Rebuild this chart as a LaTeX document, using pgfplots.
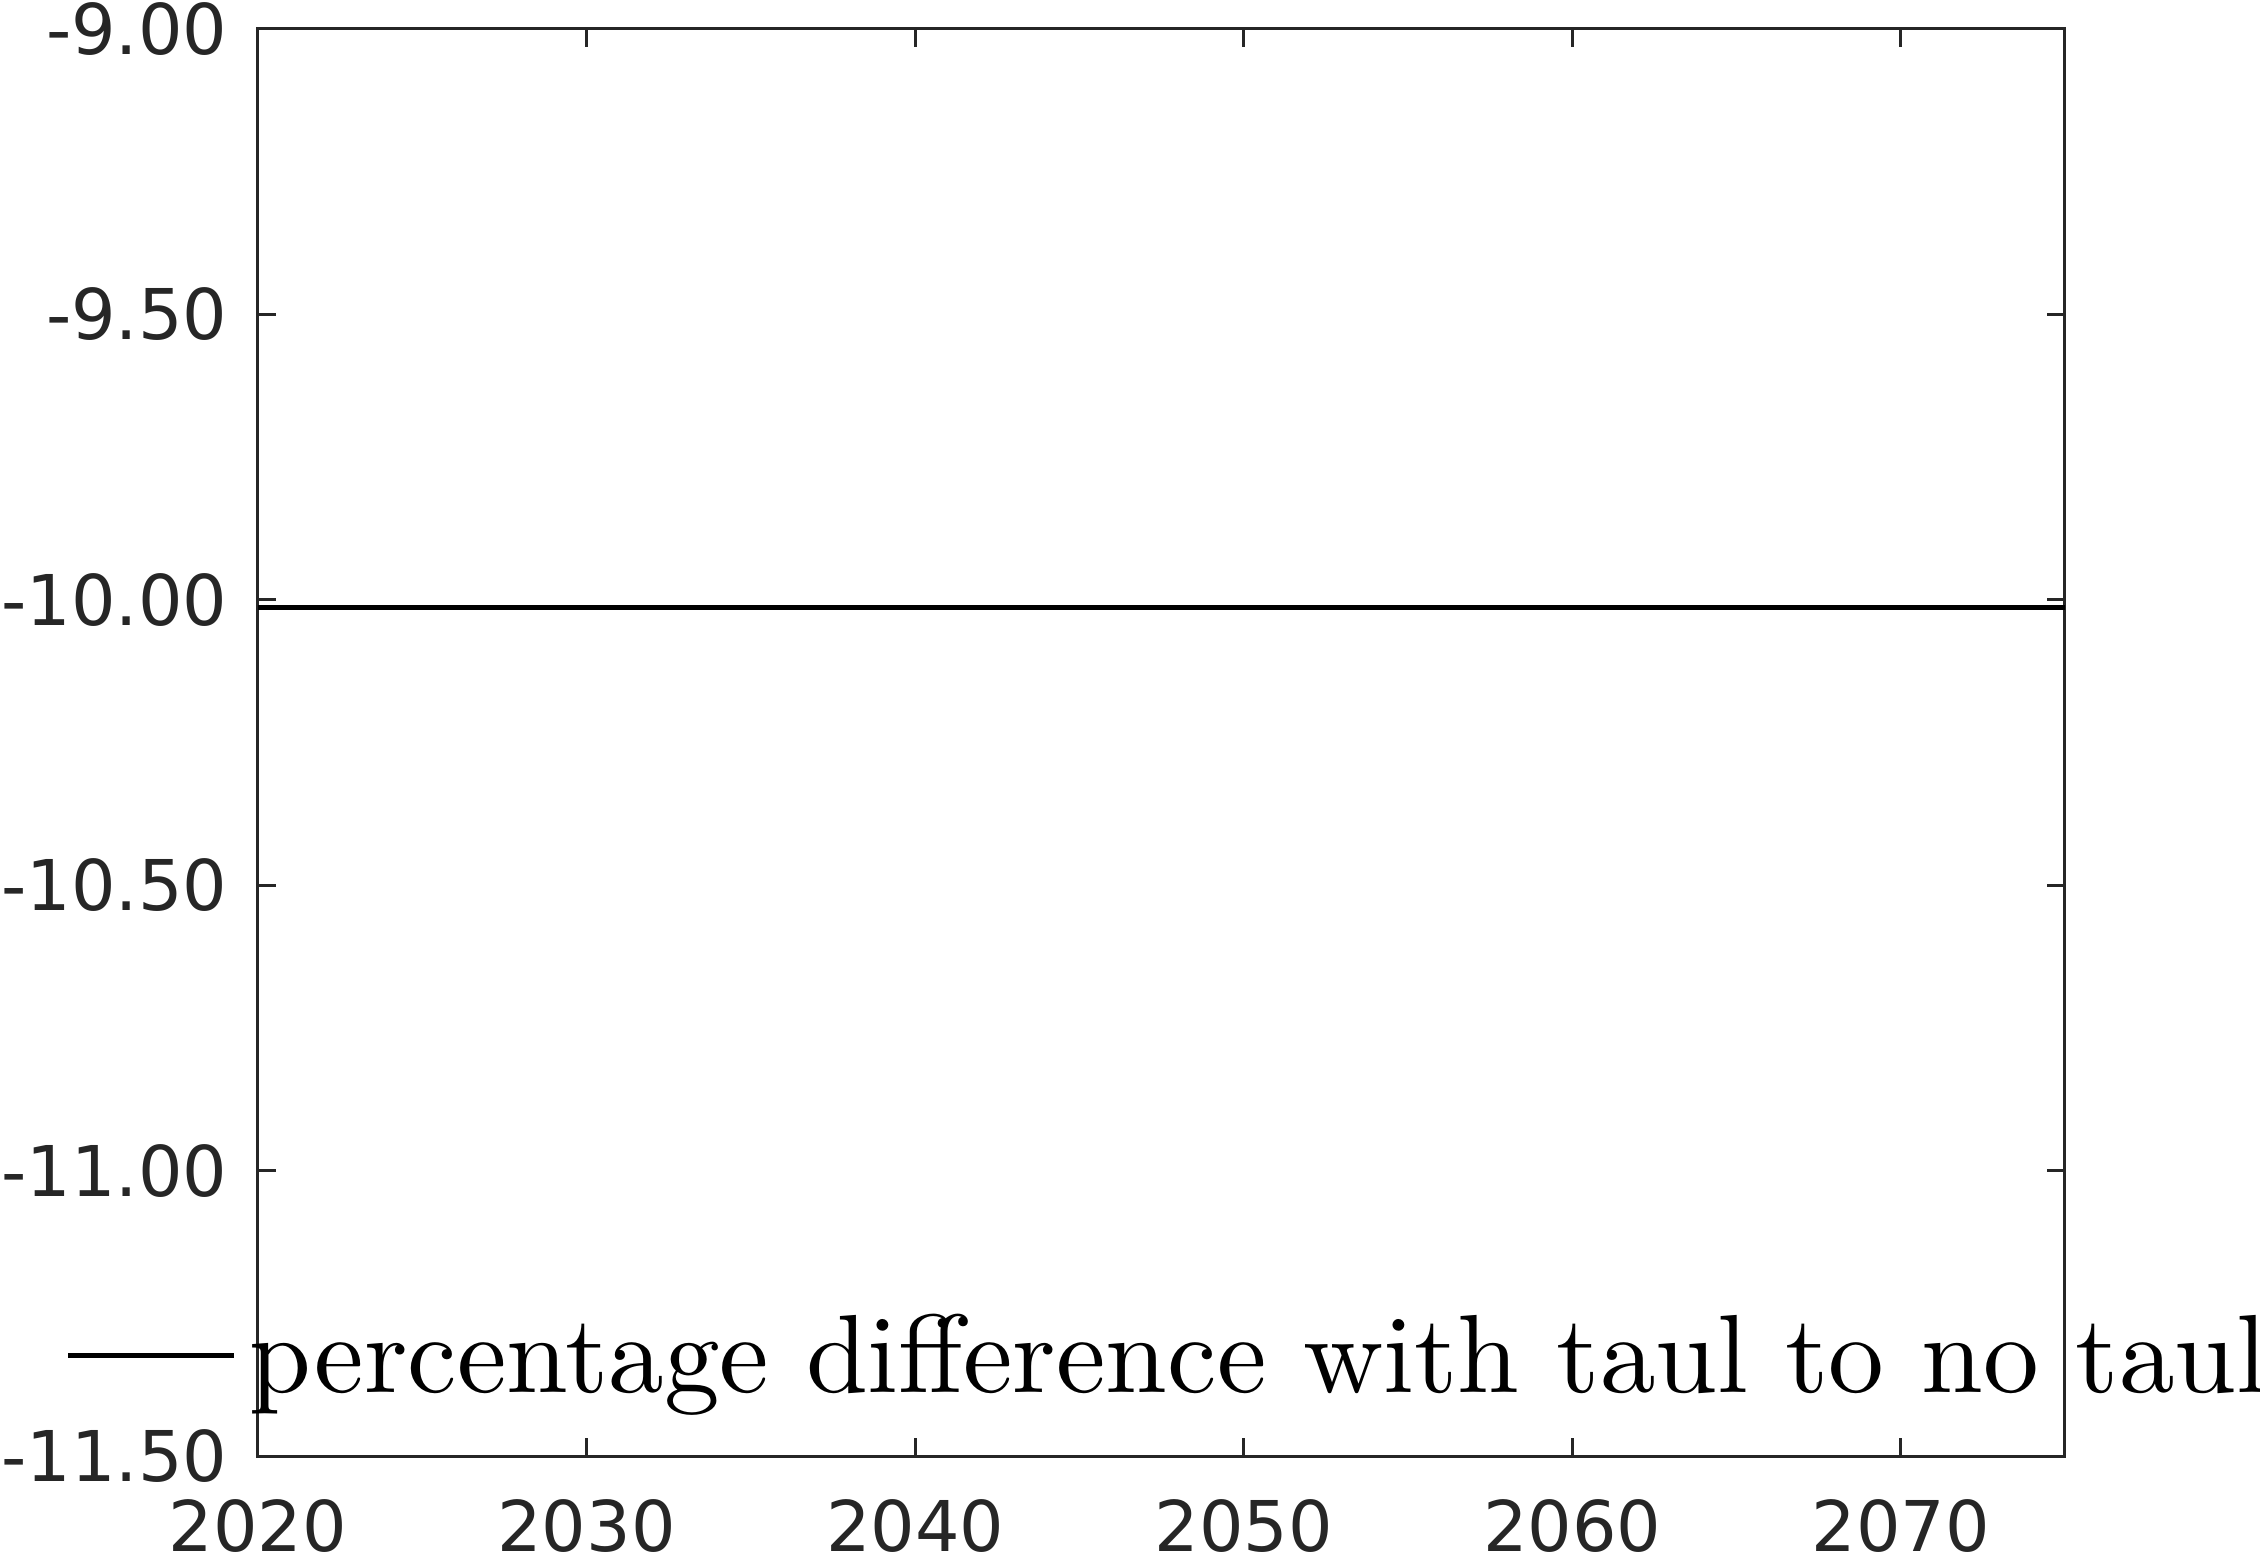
\documentclass[border=0pt]{standalone}
\usepackage{pgfplots}
\pgfplotsset{compat=1.18}
\usepackage{fontspec}
\newfontfamily\ticksfont{DejaVu Sans}
\newfontfamily\lmten{lmroman10-regular.otf}
\definecolor{axgray}{HTML}{262626}
\begin{document}
\begin{tikzpicture}
\useasboundingbox (-64.5pt,-24.5pt) rectangle (500.5pt,364pt);
\begin{axis}[
 at={(0pt,0pt)}, anchor=south west,
 scale only axis, width=451.75pt, height=356.75pt,
 xmin=2020, xmax=2075, ymin=-11.5, ymax=-9,
 xtick={2020,2030,2040,2050,2060,2070},
 ytick={-11.5,-11,-10.5,-10,-9.5,-9},
 tick align=inside, major tick length=4.5pt,
 axis line style={axgray, line width=0.75pt},
 every tick/.style={axgray, line width=0.75pt},
 tick label style={font=\ticksfont\fontsize{17.5pt}{21pt}\selectfont, text=axgray},
 /pgf/number format/assume math mode=true,
 xticklabel style={/pgf/number format/1000 sep={}, inner sep=0pt, yshift=-10.75pt},
 yticklabel style={/pgf/number format/fixed, /pgf/number format/fixed zerofill, /pgf/number format/precision=2, inner sep=0pt, xshift=-7.5pt},
 legend style={draw=none, fill=none, at={(axis description cs:-0.1068,0.0701)}, anchor=west, font=\lmten\fontsize{27.8pt}{33pt}\selectfont, inner sep=0pt, nodes={inner sep=0pt}, column sep=3.25pt},
 legend cell align=left,
 legend image code/.code={\draw[black,line width=1.25pt] (0pt,0pt) -- (41.5pt,0pt);},
]
\addplot[black, line width=1.25pt] coordinates {
 (2020,-10.013) (2025,-10.013) (2030,-10.013) (2035,-10.013) (2040,-10.013) (2045,-10.013)
 (2050,-10.013) (2055,-10.013) (2060,-10.013) (2065,-10.013) (2070,-10.013) (2075,-10.013)
};
\addlegendentry{percentage difference with taul to no taul}
\end{axis}
\end{tikzpicture}
\end{document}
